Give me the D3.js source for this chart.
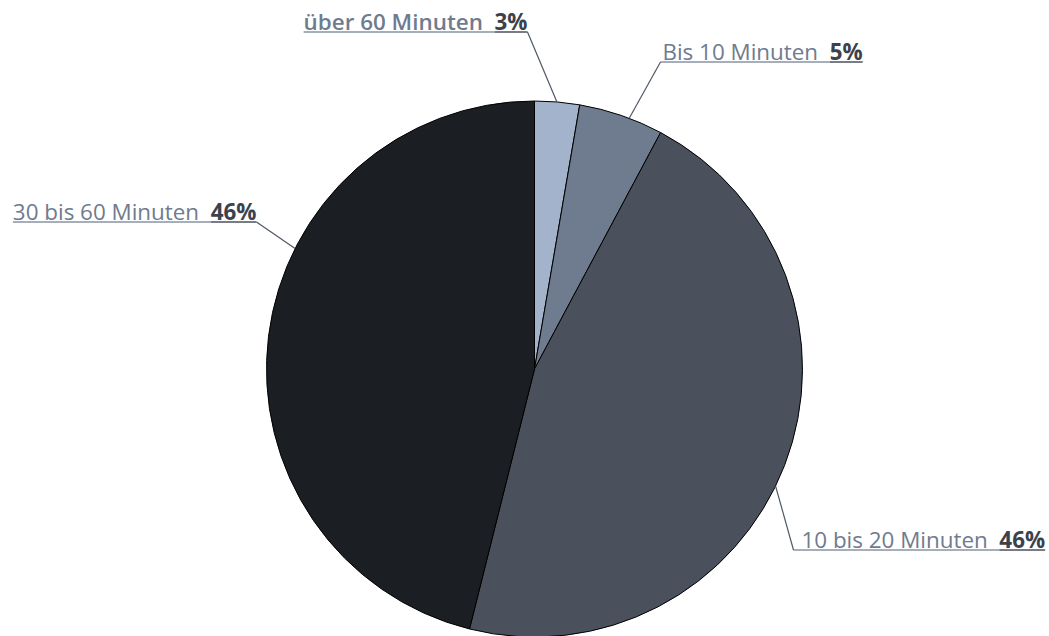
<!DOCTYPE html>
<html>
<head>
<meta charset="utf-8">
<script src="https://cdn.jsdelivr.net/npm/d3@7"></script>
<style>
  body { margin: 0; background: #fff; }
  svg { display: block; }
  text { font-family: "Open Sans", sans-serif; font-size: 22.4px; }
</style>
</head>
<body>
<svg id="chart" width="1049" height="636"></svg>
<script>
// Anteile der Wegezeit, im Uhrzeigersinn ab 12 Uhr
const categories = ["über 60 Minuten", "Bis 10 Minuten", "10 bis 20 Minuten", "30 bis 60 Minuten"];
const values = [2.7, 5.1, 46.1, 46.1];
const colors = ["#a3b3cc", "#6f7b8e", "#4a515c", "#1b1e22"];

// Beschriftungs-Layout: Knickpunkt relativ zum Mittelpunkt, Ansatzwinkel am Rand
const labelElbow = [[-7, -337], [126, -307], [259, 181], [-278, -147]];
const labelAnchorDeg = [4.8, 20.7, 115.9, 296.7];
const labelGap = [0, 2, 8, 0];
const labelBold = [true, false, false, false];

const svg = d3.select('#chart');
const cx = 534.5, cy = 369, radius = 268;

const total = d3.sum(values);
const pie = d3.pie().sort(null).value(d => d);
const arc = d3.arc().innerRadius(0).outerRadius(radius);

const arcs = pie(values);
const g = svg.append('g').attr('transform', 'translate(' + cx + ',' + cy + ')');

g.selectAll('path.slice')
  .data(arcs)
  .enter().append('path')
  .attr('class', 'slice')
  .attr('d', arc)
  .attr('fill', (d, i) => colors[i])
  .attr('stroke', '#000')
  .attr('stroke-width', 1)
  .attr('stroke-linejoin', 'round');

const labels = g.selectAll('g.label')
  .data(arcs)
  .enter().append('g')
  .attr('class', 'label');

labels.each(function(d, i) {
  const sel = d3.select(this);
  const [ex, ey] = labelElbow[i];
  const a = labelAnchorDeg[i] * Math.PI / 180;
  const ax = radius * Math.sin(a), ay = -radius * Math.cos(a);
  const right = ex > ax || ex > 0 && i !== 0;
  const pct = Math.round(values[i] / total * 100) + '%';

  const text = sel.append('text')
    .attr('y', ey - 2)
    .attr('text-anchor', right ? 'start' : 'end')
    .attr('x', right ? ex + labelGap[i] : ex - labelGap[i]);
  const nameSpan = text.append('tspan')
    .attr('fill', '#6f7b8e')
    .attr('font-weight', labelBold[i] ? 600 : 400)
    .text(categories[i] + '\u00a0\u00a0');
  const pctSpan = text.append('tspan')
    .attr('fill', '#3b424c')
    .attr('font-weight', 700)
    .text(pct);

  const nameW = nameSpan.node().getComputedTextLength();
  const pctW = pctSpan.node().getComputedTextLength();
  const textW = nameW + pctW;
  const x0 = right ? ex + labelGap[i] : ex - textW;
  const lineStart = right ? ex : x0;
  const pctStart = x0 + nameW;
  const lineEnd = right ? x0 + textW : ex;

  sel.append('line')
    .attr('x1', lineStart).attr('x2', pctStart)
    .attr('y1', ey).attr('y2', ey)
    .attr('stroke', '#8993a3').attr('stroke-width', 1.5);
  sel.append('line')
    .attr('x1', pctStart).attr('x2', lineEnd)
    .attr('y1', ey).attr('y2', ey)
    .attr('stroke', '#4a515c').attr('stroke-width', 1.5);

  sel.append('line')
    .attr('x1', ex).attr('y1', ey)
    .attr('x2', ax).attr('y2', ay)
    .attr('stroke', '#4e5866').attr('stroke-width', 1.2);
});
</script>
</body>
</html>
